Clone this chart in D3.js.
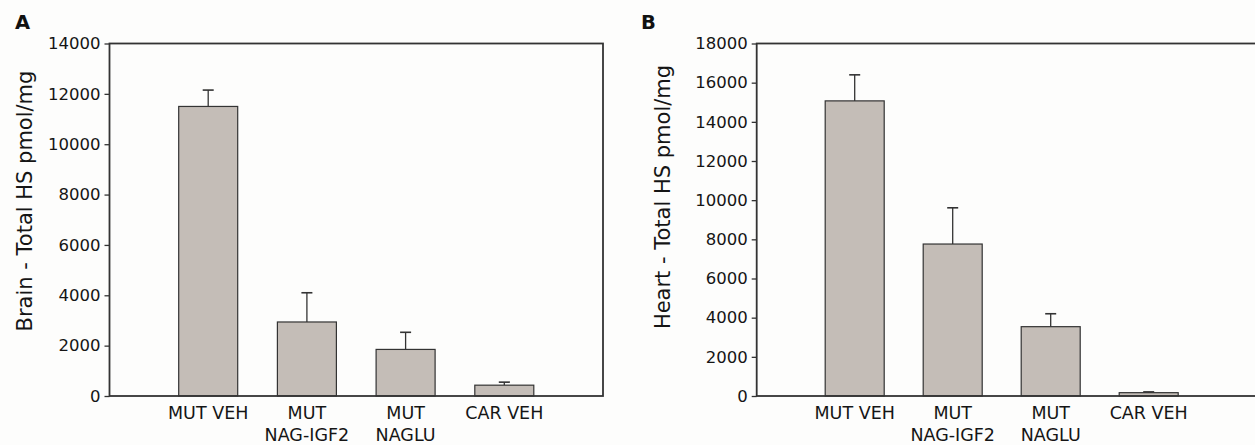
<!DOCTYPE html>
<html>
<head>
<meta charset="utf-8">
<script src="https://cdn.jsdelivr.net/npm/d3@7"></script>
<style>
  body { margin: 0; background: #fdfdfc; }
  svg { display: block; font-family: "DejaVu Sans", sans-serif; }
</style>
</head>
<body>
<svg id="chart" width="1255" height="445"></svg>
<script>
// groups on the x axis (second line shown below the first)
const groups = ["MUT VEH", "MUT NAG-IGF2", "MUT NAGLU", "CAR VEH"]
const groupLines = [["MUT VEH"], ["MUT", "NAG-IGF2"], ["MUT", "NAGLU"], ["CAR VEH"]]

// panel A - brain
const brainMeans = [11500, 2940, 1850, 430]
const brainErrors = [650, 1160, 680, 120]
const brainTicks = [0, 2000, 4000, 6000, 8000, 10000, 12000, 14000]

// panel B - heart
const heartMeans = [15070, 7760, 3540, 170]
const heartErrors = [1330, 1850, 660, 40]
const heartTicks = [0, 2000, 4000, 6000, 8000, 10000, 12000, 14000, 16000, 18000]

const svg = d3.select("#chart")

const ink = "#333"
const barFill = "#c4bdb7"

function drawPanel(opt) {
    const g = svg.append("g")

    const y = d3.scaleLinear()
        .domain([0, d3.max(opt.ticks)])
        .range([opt.bottom, opt.top])

    // bars sit in the middle 4 of 5 slots
    const x = d3.scalePoint()
        .domain(groups)
        .range([opt.left, opt.left + opt.slot * 5])
        .padding(1)

    const barW = 59

    const data = groups.map((k, i) => ({ key: k, lines: groupLines[i], mean: opt.means[i], err: opt.errors[i] }))

    // error bars (drawn first so the bar outline covers the base)
    g.selectAll("line.err")
        .data(data)
        .enter()
        .append("line")
        .attr("class", "err")
        .attr("x1", d => x(d.key))
        .attr("x2", d => x(d.key))
        .attr("y1", d => y(d.mean))
        .attr("y2", d => y(d.mean + d.err))
        .attr("stroke", ink)
        .attr("stroke-width", 1.3)

    g.selectAll("line.cap")
        .data(data)
        .enter()
        .append("line")
        .attr("class", "cap")
        .attr("x1", d => x(d.key) - 5.5)
        .attr("x2", d => x(d.key) + 5.5)
        .attr("y1", d => y(d.mean + d.err))
        .attr("y2", d => y(d.mean + d.err))
        .attr("stroke", ink)
        .attr("stroke-width", 1.6)

    g.selectAll("rect.bar")
        .data(data)
        .enter()
        .append("rect")
        .attr("class", "bar")
        .attr("x", d => x(d.key) - barW / 2)
        .attr("y", d => y(d.mean))
        .attr("width", barW)
        .attr("height", d => y(0) - y(d.mean))
        .attr("fill", barFill)
        .attr("stroke", ink)
        .attr("stroke-width", 1.2)

    // frame
    g.append("rect")
        .attr("x", opt.left)
        .attr("y", opt.top)
        .attr("width", opt.frameRight - opt.left)
        .attr("height", opt.bottom - opt.top)
        .attr("fill", "none")
        .attr("stroke", ink)
        .attr("stroke-width", 1.8)

    // y axis
    const yAxis = g.append("g")
        .attr("transform", `translate(${opt.left},0)`)
        .call(d3.axisLeft(y).tickValues(opt.ticks).tickSize(5).tickPadding(4).tickFormat(d3.format("d")))

    yAxis.select(".domain").remove()
    yAxis.selectAll(".tick line").attr("stroke", ink).attr("stroke-width", 1.3)
    yAxis.selectAll(".tick text")
        .attr("fill", "#151515")
        .attr("font-family", "DejaVu Sans")
        .style("font-size", "16.5px")

    // group labels
    const lab = g.selectAll("text.grp")
        .data(data)
        .enter()
        .append("text")
        .attr("class", "grp")
        .attr("text-anchor", "middle")
        .attr("fill", "#151515")
        .style("font-size", "17.5px")

    lab.selectAll("tspan")
        .data(d => d.lines.map(l => ({ l, cx: x(d.key) })))
        .enter()
        .append("tspan")
        .attr("x", d => d.cx)
        .attr("y", (d, i) => opt.bottom + 23 + i * 22)
        .text(d => d.l)

    // y title
    g.append("text")
        .attr("transform", `translate(${opt.titleX},${opt.titleY}) rotate(-90)`)
        .attr("text-anchor", "middle")
        .attr("dy", "0.35em")
        .attr("fill", "#151515")
        .style("font-size", "21px")
        .text(opt.title)

    // panel letter
    g.append("text")
        .attr("x", opt.letterX)
        .attr("y", 29)
        .attr("fill", "#111")
        .style("font-size", "19.5px")
        .style("font-weight", "bold")
        .text(opt.letter)
}

drawPanel({
    left: 109.5, top: 43.5, bottom: 396, slot: 98.7, frameRight: 603,
    ticks: brainTicks, means: brainMeans, errors: brainErrors,
    title: "Brain - Total HS pmol/mg", titleX: 25, titleY: 201,
    letter: "A", letterX: 15
})

drawPanel({
    left: 756.7, top: 43.5, bottom: 396, slot: 98, frameRight: 1262,
    ticks: heartTicks, means: heartMeans, errors: heartErrors,
    title: "Heart - Total HS pmol/mg", titleX: 663, titleY: 197,
    letter: "B", letterX: 641
})
</script>
</body>
</html>
